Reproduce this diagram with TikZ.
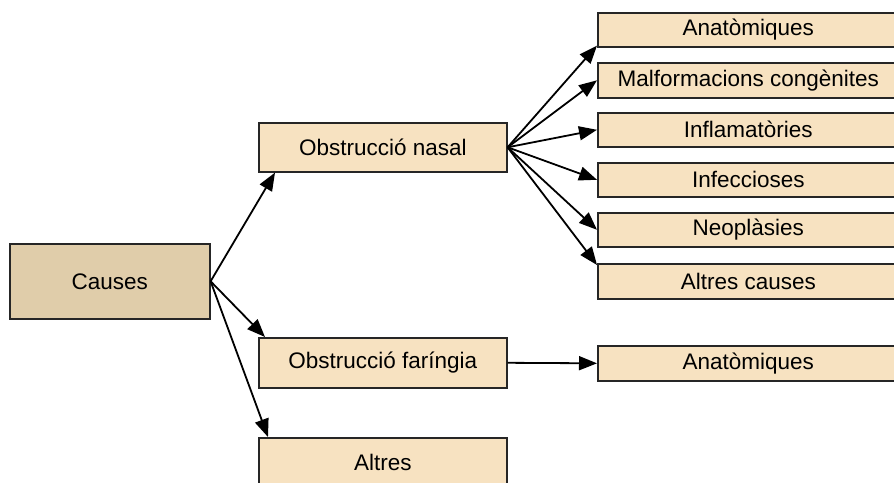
\documentclass[tikz,border=0pt]{standalone}
\usepackage{fontspec}
\setmainfont{Liberation Sans}
\usetikzlibrary{arrows.meta,calc}
\definecolor{rootfill}{HTML}{E0CDAA}
\definecolor{boxfill}{HTML}{F7E2C1}
\definecolor{boxline}{HTML}{262626}
\begin{document}
\begin{tikzpicture}[x=1pt,y=-1pt,
  box/.style={draw=boxline,fill=boxfill,line width=1.6pt,rectangle,anchor=north west,inner sep=0pt,
    font=\fontsize{22.5}{27}\selectfont},
  rootbox/.style={box,fill=rootfill},
  conn/.style={line width=1.8pt,-{Triangle[length=18pt,width=14pt]}}]
\useasboundingbox (0,0) rectangle (894,482);
\clip (0,0) rectangle (894,482);
% left column
\node[rootbox,minimum width=200pt,minimum height=75pt] (causes) at (9,243) {Causes};
% middle column
\node[box,minimum width=248pt,minimum height=49pt] (nasal) at (258,122) {Obstrucció nasal};
\node[box,minimum width=248pt,minimum height=50pt] (faring) at (258,337) {Obstrucció faríngia};
\node[box,minimum width=248pt,minimum height=50pt] (altres) at (258,437) {Altres};
% right column
\node[box,minimum width=301pt,minimum height=34pt] (r1) at (597,12) {Anatòmiques};
\node[box,minimum width=301pt,minimum height=35pt] (r2) at (597,62) {Malformacions congènites};
\node[box,minimum width=301pt,minimum height=34pt] (r3) at (597,112) {Inflamatòries};
\node[box,minimum width=301pt,minimum height=34pt] (r4) at (597,162) {Infeccioses};
\node[box,minimum width=301pt,minimum height=34pt] (r5) at (597,212) {Neoplàsies};
\node[box,minimum width=301pt,minimum height=35pt] (r6) at (597,263) {Altres causes};
\node[box,minimum width=301pt,minimum height=35pt] (r7) at (597,345) {Anatòmiques};
% connectors from Causes
\draw[conn] (causes.east) -- ($(nasal.south west)+(17,0)$);
\draw[conn] (causes.east) -- ($(faring.north west)+(7,0)$);
\draw[conn] (causes.east) -- ($(altres.north west)+(10,0)$);
% connectors from Obstrucció nasal
\draw[conn] (nasal.east) -- ($(r1.south west)+(0,-2)$);
\draw[conn] (nasal.east) -- (r2.west);
\draw[conn] (nasal.east) -- (r3.west);
\draw[conn] (nasal.east) -- (r4.west);
\draw[conn] (nasal.east) -- (r5.west);
\draw[conn] (nasal.east) -- ($(r6.north west)+(0,2)$);
% connector from Obstrucció faríngia
\draw[conn] (faring.east) -- (r7.west);
\end{tikzpicture}
\end{document}
